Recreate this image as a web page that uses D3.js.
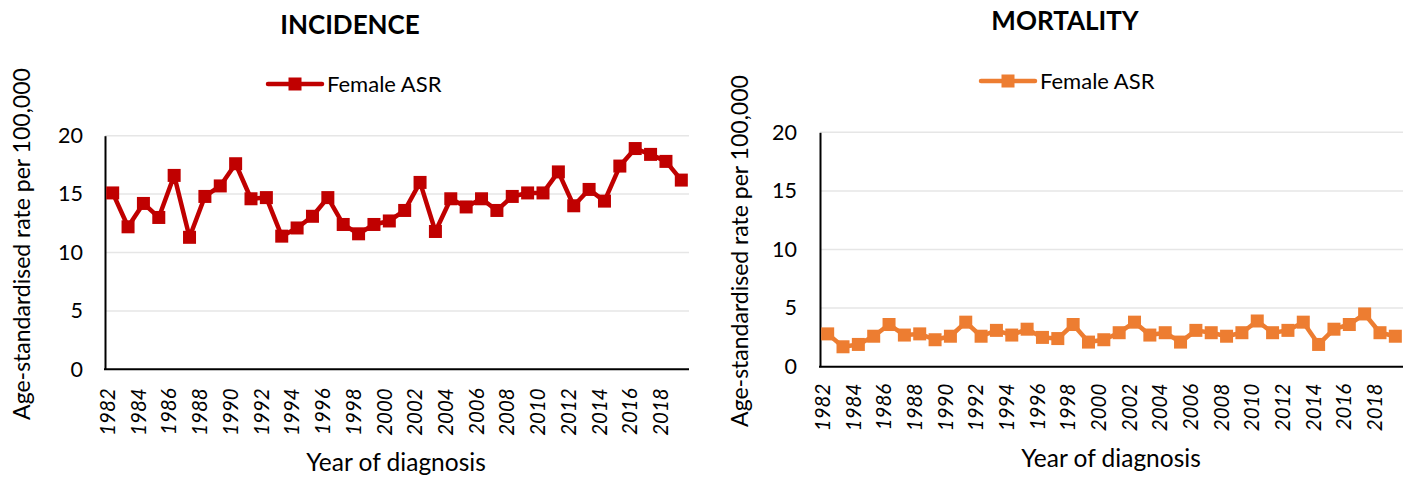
<!DOCTYPE html>
<html>
<head>
<meta charset="utf-8">
<script src="https://cdn.jsdelivr.net/npm/d3@7"></script>
<style>
  body { margin: 0; background: #fff; }
  svg { display: block; font-family: Lato, "Open Sans", sans-serif; }
</style>
</head>
<body>
<svg id="chart" width="1412" height="479"></svg>
<script>
// Year of diagnosis (categories)
const years = [1982, 1983, 1984, 1985, 1986, 1987, 1988, 1989, 1990, 1991,
               1992, 1993, 1994, 1995, 1996, 1997, 1998, 1999, 2000, 2001,
               2002, 2003, 2004, 2005, 2006, 2007, 2008, 2009, 2010, 2011,
               2012, 2013, 2014, 2015, 2016, 2017, 2018, 2019];

// Female age-standardised incidence rate per 100,000
const incidenceASR = [15.1, 12.2, 14.2, 13.0, 16.6, 11.3, 14.8, 15.7, 17.6, 14.6,
                      14.7, 11.4, 12.1, 13.1, 14.7, 12.4, 11.6, 12.4, 12.7, 13.6,
                      16.0, 11.8, 14.6, 13.9, 14.6, 13.6, 14.8, 15.1, 15.1, 16.9,
                      14.0, 15.4, 14.4, 17.4, 18.9, 18.4, 17.8, 16.2];

// Female age-standardised mortality rate per 100,000
const mortalityASR = [2.8, 1.7, 1.9, 2.6, 3.6, 2.7, 2.8, 2.3, 2.6, 3.8,
                      2.6, 3.1, 2.7, 3.2, 2.5, 2.4, 3.6, 2.1, 2.3, 2.9,
                      3.8, 2.7, 2.9, 2.1, 3.1, 2.9, 2.6, 2.9, 3.9, 2.9,
                      3.1, 3.8, 1.9, 3.2, 3.6, 4.5, 2.9, 2.6];

// Axis ticks
const yTicks = [0, 5, 10, 15, 20];
const xTickYears = [1982, 1984, 1986, 1988, 1990, 1992, 1994, 1996, 1998, 2000,
                    2002, 2004, 2006, 2008, 2010, 2012, 2014, 2016, 2018];

const seriesName = "Female ASR";
const yTitle = "Age-standardised rate per 100,000";
const xTitle = "Year of diagnosis";

const svg = d3.select("#chart");

const panels = [
  {
    title: "INCIDENCE", values: incidenceASR, color: "#C00000",
    left: 105, right: 689, top: 135.7, bottom: 369.3,
    titleX: 350, titleY: 34,
    legendX: 295, legendY: 84,
    yTitleX: 22, yTitleY: 244,
    tickLabelX: 83,
    xLabelGap: 19,
    xTitleX: 396, xTitleY: 471
  },
  {
    title: "MORTALITY", values: mortalityASR, color: "#ED7D31",
    left: 820, right: 1403, top: 132.3, bottom: 366.7,
    titleX: 1065, titleY: 30,
    legendX: 1008, legendY: 81,
    yTitleX: 740, yTitleY: 251,
    tickLabelX: 797,
    xLabelGap: 17,
    xTitleX: 1111, xTitleY: 467
  }
];

panels.forEach(p => {
  const g = svg.append("g");

  const x = d3.scaleBand().domain(years).range([p.left, p.right]);
  const cx = d => x(d) + x.bandwidth() / 2;
  const y = d3.scaleLinear().domain([0, 20]).range([p.bottom, p.top]);

  // Horizontal gridlines
  g.append("g")
    .selectAll("line")
    .data(yTicks.filter(t => t > 0))
    .join("line")
    .attr("x1", p.left).attr("x2", p.right)
    .attr("y1", d => y(d)).attr("y2", d => y(d))
    .attr("stroke", "#e6e6e6").attr("stroke-width", 1.5);

  // Y axis: line plus tick labels
  const yAxis = g.append("g")
    .attr("transform", `translate(${p.left},0)`)
    .call(d3.axisLeft(y).tickValues(yTicks).tickSize(0).tickPadding(p.left - p.tickLabelX));
  yAxis.select(".domain").attr("stroke", "#000").attr("stroke-width", 2);
  yAxis.selectAll("text")
    .attr("font-family", "Lato, sans-serif")
    .attr("font-size", 21.5)
    .attr("fill", "#000");

  // X axis baseline
  g.append("line")
    .attr("x1", p.left - 1).attr("x2", p.right)
    .attr("y1", p.bottom).attr("y2", p.bottom)
    .attr("stroke", "#000").attr("stroke-width", 2);

  // X tick labels, rotated
  g.append("g")
    .selectAll("text")
    .data(xTickYears)
    .join("text")
    .attr("transform", d => `translate(${cx(d) - 5},${p.bottom + p.xLabelGap}) rotate(-90)`)
    .attr("text-anchor", "end")
    .attr("dy", "0.35em")
    .attr("font-size", 20.5)
    .attr("font-style", "italic")
    .attr("fill", "#000")
    .text(d => d);

  // Series line
  const line = d3.line()
    .x((d, i) => cx(years[i]))
    .y(d => y(d));
  g.append("path")
    .datum(p.values)
    .attr("fill", "none")
    .attr("stroke", p.color)
    .attr("stroke-width", 4.5)
    .attr("stroke-linejoin", "round")
    .attr("d", line);

  // Square markers
  const ms = 13;
  g.append("g")
    .selectAll("rect")
    .data(p.values)
    .join("rect")
    .attr("x", (d, i) => cx(years[i]) - ms / 2)
    .attr("y", d => y(d) - ms / 2)
    .attr("width", ms).attr("height", ms)
    .attr("fill", p.color);

  // Title
  g.append("text")
    .attr("x", p.titleX).attr("y", p.titleY)
    .attr("text-anchor", "middle")
    .attr("font-size", 26)
    .attr("font-weight", 700)
    .attr("fill", "#000")
    .text(p.title);

  // Legend
  const lg = g.append("g").attr("transform", `translate(${p.legendX},${p.legendY})`);
  lg.append("line")
    .attr("x1", -27).attr("x2", 27)
    .attr("stroke", p.color).attr("stroke-width", 4.5).attr("stroke-linecap", "round");
  lg.append("rect")
    .attr("x", -6.5).attr("y", -6.5).attr("width", 13).attr("height", 13)
    .attr("fill", p.color);
  lg.append("text")
    .attr("x", 32).attr("dy", "0.35em")
    .attr("font-size", 22)
    .attr("fill", "#000")
    .text(seriesName);

  // Axis titles
  g.append("text")
    .attr("transform", `translate(${p.yTitleX},${p.yTitleY}) rotate(-90)`)
    .attr("text-anchor", "middle")
    .attr("dy", "0.35em")
    .attr("font-size", 23)
    .attr("fill", "#000")
    .text(yTitle);

  g.append("text")
    .attr("x", p.xTitleX).attr("y", p.xTitleY)
    .attr("text-anchor", "middle")
    .attr("font-size", 24.5)
    .attr("fill", "#000")
    .text(xTitle);
});
</script>
</body>
</html>
